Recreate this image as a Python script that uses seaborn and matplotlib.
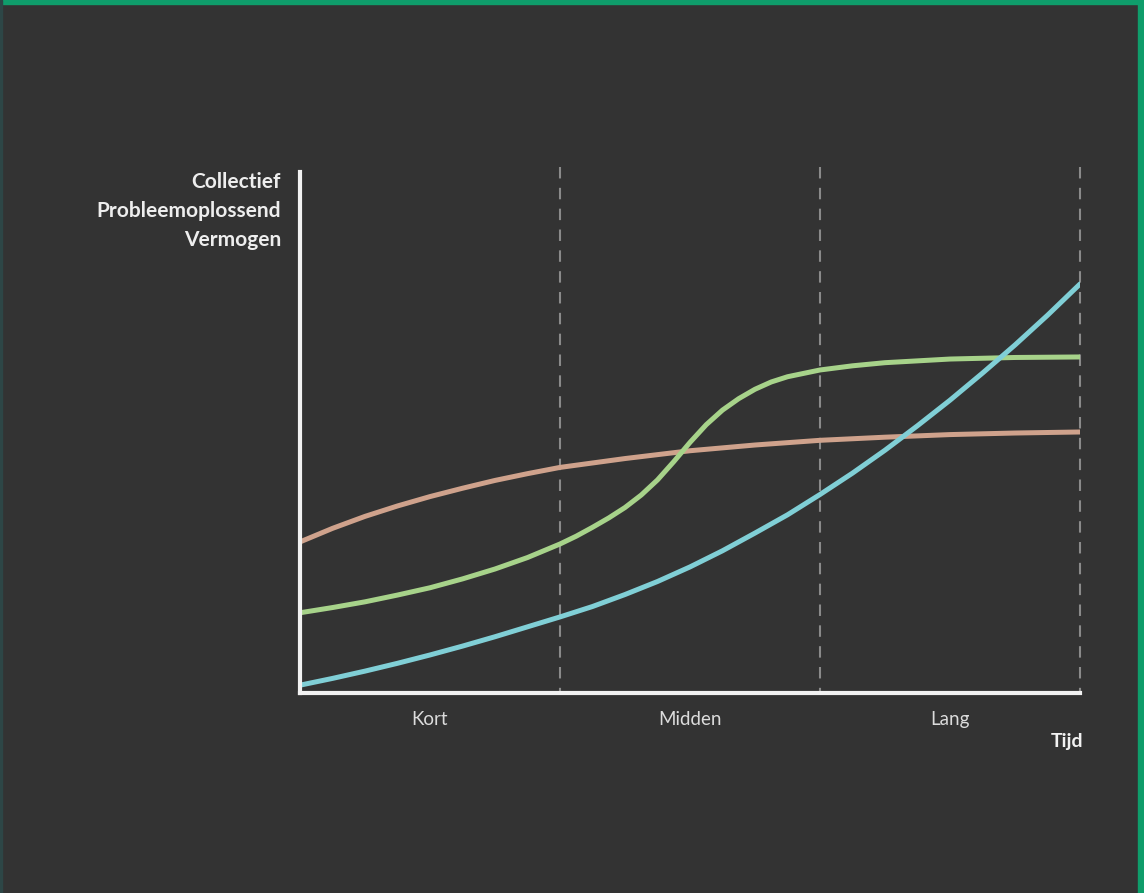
import pandas as pd
import seaborn as sns
import matplotlib.pyplot as plt
from matplotlib.patches import Rectangle

# ---------------------------------------
# Data
# x: 0..3 = Kort / Midden / Lang, y: 0..100
# ---------------------------------------
orange_x = [0, 0.125, 0.25, 0.375, 0.5, 0.625, 0.75, 0.875, 1.0,
            1.25, 1.5, 1.75, 2.0, 2.25, 2.5, 2.75, 3.0]
orange_y = [29.0, 31.6, 33.9, 35.9, 37.7, 39.3, 40.8, 42.1, 43.3,
            45.0, 46.5, 47.6, 48.5, 49.1, 49.6, 49.9, 50.1]

green_x = [0, 0.125, 0.25, 0.375, 0.5, 0.625, 0.75, 0.875, 1.0, 1.0625, 1.125, 1.1875,
           1.25, 1.3125, 1.375, 1.4375, 1.5, 1.5625, 1.625, 1.6875, 1.75, 1.8125, 1.875,
           2.0, 2.125, 2.25, 2.5, 2.75, 3.0]
green_y = [15.4, 16.4, 17.5, 18.8, 20.2, 21.9, 23.8, 26.0, 28.6, 30.1, 31.8, 33.6,
           35.6, 38.0, 40.9, 44.4, 48.1, 51.5, 54.3, 56.5, 58.3, 59.7, 60.7,
           62.0, 62.8, 63.4, 64.1, 64.4, 64.5]

blue_x = [0, 0.125, 0.25, 0.375, 0.5, 0.625, 0.75, 0.875, 1.0, 1.125, 1.25, 1.375, 1.5,
          1.625, 1.75, 1.875, 2.0, 2.125, 2.25, 2.375, 2.5, 2.625, 2.75, 2.875, 3.0]
blue_y = [1.5, 2.8, 4.2, 5.7, 7.3, 9.0, 10.8, 12.7, 14.6, 16.6, 18.9, 21.4, 24.2,
          27.3, 30.7, 34.2, 38.1, 42.2, 46.6, 51.3, 56.2, 61.4, 66.8, 72.5, 78.5]

tick_pos = [0.5, 1.5, 2.5]
tick_labels = ["Kort", "Midden", "Lang"]
phase_bounds = [1, 2, 3]

df = pd.concat([
    pd.DataFrame({"tijd": orange_x, "vermogen": orange_y, "reeks": "oranje"}),
    pd.DataFrame({"tijd": green_x, "vermogen": green_y, "reeks": "groen"}),
    pd.DataFrame({"tijd": blue_x, "vermogen": blue_y, "reeks": "blauw"}),
])

palette = {"oranje": "#cfa28c", "groen": "#a7d38a", "blauw": "#80cfd6"}

# ---------------------------------------
# Styling
# ---------------------------------------
bg = "#333333"
sns.set_style("dark", {"axes.facecolor": bg, "figure.facecolor": bg})
plt.rcParams["font.family"] = ["Lato", "DejaVu Sans"]

fig = plt.figure(figsize=(11.44, 8.93), dpi=100)
ax = fig.add_axes([300 / 1144, 1 - 693 / 893, 780 / 1144, 521 / 893])

# phase separators (drawn top-down so the dash pattern starts at the top)
ax.vlines(phase_bounds, 101, 0, color="#8a8a8a", lw=1.5, linestyles=(0, (5.5, 4.5)),
          clip_on=False, zorder=1)

sns.lineplot(
    data=df, x="tijd", y="vermogen", hue="reeks", palette=palette,
    lw=3.6, legend=False, sort=False, estimator=None, ax=ax, zorder=3
)

ax.set_xlim(0, 3)
ax.set_ylim(0, 100)
ax.set_xticks(tick_pos)
ax.set_xticklabels(tick_labels, color="#dcdcdc", fontsize=13.5)
ax.set_yticks([])
ax.tick_params(axis="x", length=0, pad=13)
ax.set_xlabel("")
ax.set_ylabel("")
ax.grid(False)

for side in ["top", "right"]:
    ax.spines[side].set_visible(False)
for side in ["left", "bottom"]:
    ax.spines[side].set_visible(True)
    ax.spines[side].set_color("#f2f2f2")
    ax.spines[side].set_linewidth(3)
    ax.spines[side].set_capstyle("projecting")
    ax.spines[side].set_zorder(4)

# ---------------------------------------
# Titles and Labels
# ---------------------------------------
fig.text(281 / 1144, 1 - 172 / 893, "Collectief\nProbleemoplossend\nVermogen",
         ha="right", va="top", color="#eeeeee", fontsize=15, fontweight="bold",
         linespacing=1.55)
fig.text(1083 / 1144, 1 - 741 / 893, "Tijd", ha="right", va="center",
         color="#f2f2f2", fontsize=14, fontweight="bold")

# frame accents
fig.patches.append(Rectangle((0, 1 - 4 / 893), 1, 4 / 893, transform=fig.transFigure,
                             color="#0f9d6b", zorder=10))
fig.patches.append(Rectangle((1 - 6 / 1144, 0), 6 / 1144, 1, transform=fig.transFigure,
                             color="#0f9d6b", zorder=10))
fig.patches.append(Rectangle((0, 0), 2 / 1144, 1, transform=fig.transFigure,
                             color="#2d4646", zorder=10))

# ---------------------------------------
# Save Output
# ---------------------------------------
plt.savefig("out.png", dpi=100, facecolor=bg)
plt.close()
